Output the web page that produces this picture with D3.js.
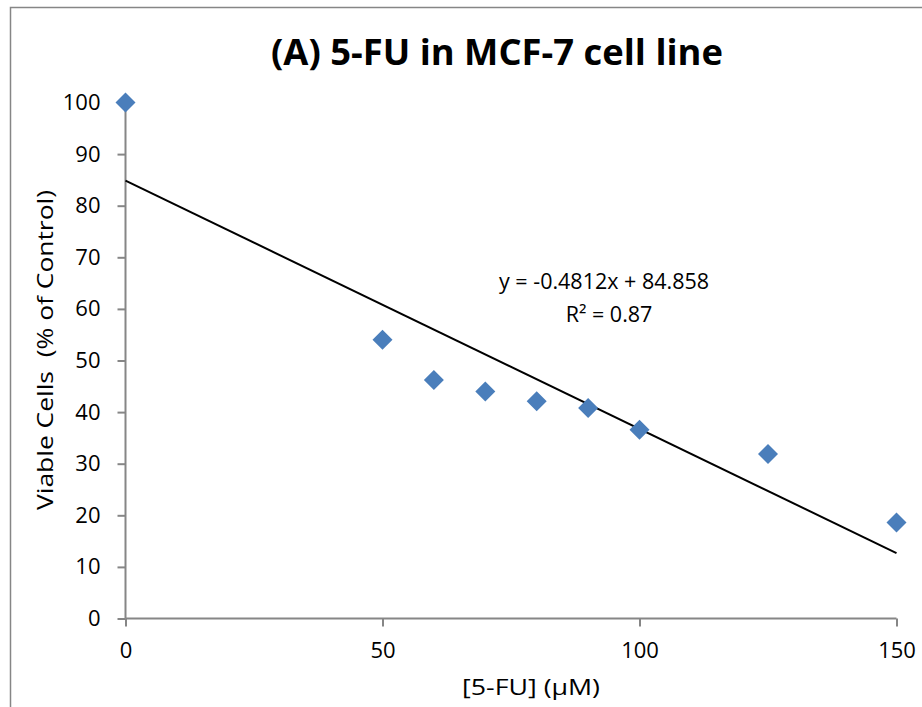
<!DOCTYPE html>
<html>
<head>
<meta charset="utf-8">
<script src="https://cdn.jsdelivr.net/npm/d3@7"></script>
<style>
html,body{margin:0;padding:0;background:#fff;}
svg{display:block;}
text{font-family:"Open Sans",sans-serif;fill:#000;white-space:pre;}
</style>
</head>
<body>
<script>
// Data
const concentrations = [0, 50, 60, 70, 80, 90, 100, 125, 150];
const viability = [100, 54, 46.2, 44.0, 42.1, 40.8, 36.6, 31.9, 18.6];
const xTicks = [0, 50, 100, 150];
const yTicks = [0, 10, 20, 30, 40, 50, 60, 70, 80, 90, 100];
const trendSlope = -0.4812;
const trendIntercept = 84.858;
const trendRange = [0, 150];
const titleText = "(A) 5-FU in MCF-7 cell line";
const xLabel = "[5-FU] (µM)";
const yLabel = "Viable Cells  (% of Control)";
const eqLines = ["y = -0.4812x + 84.858", "R² = 0.87"];

const W = 922, H = 707;
const svg = d3.select("body").append("svg").attr("width", W).attr("height", H);

// outer frame
svg.append("path").attr("d", `M10.5,${H} L10.5,7.5 L${W},7.5`)
  .attr("fill", "none").attr("stroke", "#868686").attr("stroke-width", 1.5);

const x = d3.scaleLinear().domain([0, 150]).range([125.5, 896.5]);
const y = d3.scaleLinear().domain([0, 100]).range([618.5, 102.5]);

const axisColor = "#868686";

// y axis
const yAxis = svg.append("g").attr("transform", `translate(${x(0)},0)`)
  .call(d3.axisLeft(y).tickValues(yTicks).tickSize(8).tickPadding(17));
// x axis
const xAxis = svg.append("g").attr("transform", `translate(0,${y(0)})`)
  .call(d3.axisBottom(x).tickValues(xTicks).tickSize(8).tickPadding(16));

[yAxis, xAxis].forEach(g => {
  g.select(".domain").attr("stroke", axisColor).attr("stroke-width", 2);
  g.selectAll(".tick line").attr("stroke", axisColor).attr("stroke-width", 2);
  g.selectAll(".tick text").attr("font-family", "Open Sans").attr("font-size", 22).attr("fill", "#000");
});
yAxis.select(".domain").attr("d", `M0,${y(0)}V${y(100)}`);
xAxis.select(".domain").attr("d", `M${x(0)},0H${x(150)}`);

// trend line
svg.append("line")
  .attr("x1", x(trendRange[0])).attr("y1", y(trendIntercept + trendSlope * trendRange[0]))
  .attr("x2", x(trendRange[1])).attr("y2", y(trendIntercept + trendSlope * trendRange[1]))
  .attr("stroke", "#000").attr("stroke-width", 2);

// points
const pts = concentrations.map((c, i) => ({c, v: viability[i]}));
svg.append("g").selectAll("path").data(pts).join("path")
  .attr("transform", d => `translate(${x(d.c)},${y(d.v)})`)
  .attr("d", "M0,-10L10,0L0,10L-10,0Z")
  .attr("fill", "#4A7EBB");

// title
svg.append("text").attr("x", 497).attr("y", 65).attr("text-anchor", "middle")
  .attr("font-size", 35).attr("font-weight", "bold")
  .attr("textLength", 452).attr("lengthAdjust", "spacingAndGlyphs")
  .text(titleText);

// axis labels
svg.append("text").attr("x", 531).attr("y", 695).attr("text-anchor", "middle")
  .attr("font-size", 22).attr("textLength", 138).attr("lengthAdjust", "spacingAndGlyphs")
  .text(xLabel);
svg.append("text").attr("transform", "translate(53,350) rotate(-90)").attr("text-anchor", "middle")
  .attr("font-size", 22).attr("textLength", 320).attr("lengthAdjust", "spacingAndGlyphs")
  .text(yLabel);

// equation
svg.append("text").attr("x", 604).attr("y", 289).attr("text-anchor", "middle")
  .attr("font-size", 21.5).attr("textLength", 210).attr("lengthAdjust", "spacingAndGlyphs")
  .text(eqLines[0]);
svg.append("text").attr("x", 609).attr("y", 322).attr("text-anchor", "middle")
  .attr("font-size", 21.5)
  .text(eqLines[1]);
</script>
</body>
</html>
